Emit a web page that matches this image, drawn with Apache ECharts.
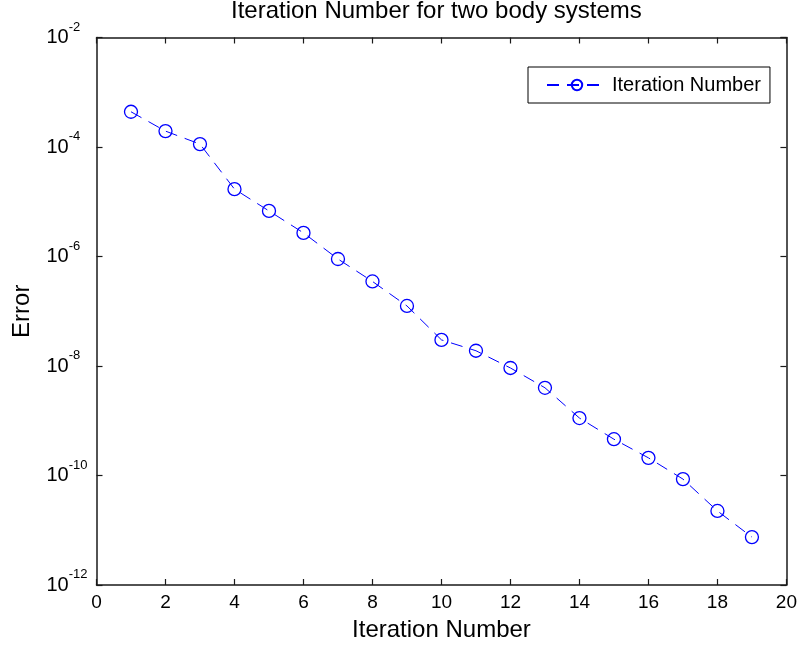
<!DOCTYPE html>
<html>
<head>
<meta charset="utf-8">
<title>Iteration Number for two body systems</title>
<script src="https://cdn.jsdelivr.net/npm/echarts@6/dist/echarts.min.js"></script>
<style>
  html, body { margin: 0; padding: 0; background: #fff; }
  #chart { width: 800px; height: 651px; }
</style>
</head>
<body>
<div id="chart"></div>
<script>
// Iteration index and the corresponding error of the two body solver
const iterations = [1, 2, 3, 4, 5, 6, 7, 8, 9, 10, 11, 12, 13, 14, 15, 16, 17, 18, 19];
const errors = [
  4.4e-4, 1.95e-4, 1.13e-4, 1.7e-5, 6.8e-6, 2.7e-6, 9.0e-7, 3.5e-7, 1.25e-7, 3.0e-8,
  1.9e-8, 9.2e-9, 4.0e-9, 1.12e-9, 4.6e-10, 2.1e-10, 8.6e-11, 2.25e-11, 7.5e-12
];
const xTicks = { min: 0, max: 20, step: 2 };
const yDecades = { min: 1e-12, max: 1e-2, step: 2 };

const FONT = '"Liberation Sans", Arial, Helvetica, sans-serif';
const INK = '#1a1a1a';
const BLUE = '#0000ff';

const points = iterations.map((it, i) => [it, errors[i]]);

function powerLabel(v) {
  const e = Math.round(Math.log10(v));
  return '{base|10}{sup|' + e + '}';
}

// fresh style objects for every axis (box with inward ticks on all four sides)
function axisLine() { return { show: true, onZero: false, lineStyle: { color: INK, width: 1.5 } }; }
function axisTick() { return { show: true, inside: true, length: 6, lineStyle: { color: INK, width: 1.2 } }; }

const chart = echarts.init(document.getElementById('chart'), null, { renderer: 'canvas' });

chart.setOption({
  backgroundColor: '#ffffff',
  animation: false,
  textStyle: { fontFamily: FONT },
  title: {
    text: 'Iteration Number for two body systems',
    left: 231,
    top: -1,
    padding: 0,
    textStyle: { fontFamily: FONT, fontSize: 24, fontWeight: 'normal', color: '#000' }
  },
  legend: {
    left: 528,
    top: 67,
    padding: [8, 9, 8, 18],
    borderColor: '#000',
    borderWidth: 1,
    itemWidth: 60,
    itemHeight: 13,
    textStyle: { fontFamily: FONT, fontSize: 20, color: '#000' },
    data: ['Iteration Number']
  },
  grid: { left: 96.5, right: 9.5, top: 37.5, bottom: 66, containLabel: false },
  xAxis: [
    {
      type: 'value',
      position: 'bottom',
      min: xTicks.min,
      max: xTicks.max,
      interval: xTicks.step,
      name: 'Iteration Number',
      nameLocation: 'middle',
      nameGap: 33,
      nameTextStyle: { fontFamily: FONT, fontSize: 24, color: '#000' },
      axisLine: axisLine(),
      axisTick: axisTick(),
      splitLine: { show: false },
      axisLabel: { margin: 8, fontFamily: FONT, fontSize: 19, color: '#000' }
    },
    {
      type: 'value',
      position: 'top',
      min: xTicks.min,
      max: xTicks.max,
      interval: xTicks.step,
      axisLine: axisLine(),
      axisTick: axisTick(),
      splitLine: { show: false },
      axisLabel: { show: false }
    }
  ],
  yAxis: [
    {
      type: 'log',
      logBase: 10,
      position: 'left',
      min: yDecades.min,
      max: yDecades.max,
      interval: yDecades.step,
      name: 'Error',
      nameLocation: 'middle',
      nameGap: 62,
      nameTextStyle: { fontFamily: FONT, fontSize: 24, color: '#000' },
      axisLine: axisLine(),
      axisTick: axisTick(),
      splitLine: { show: false },
      minorTick: { show: false },
      axisLabel: {
        align: 'left',
        margin: 50,
        formatter: powerLabel,
        rich: {
          base: { fontFamily: FONT, fontSize: 20, color: '#000', lineHeight: 20, verticalAlign: 'bottom' },
          sup: { fontFamily: FONT, fontSize: 13, color: '#000', lineHeight: 13, verticalAlign: 'bottom', padding: [0, 0, 14, 0] }
        }
      }
    },
    {
      type: 'log',
      logBase: 10,
      position: 'right',
      min: yDecades.min,
      max: yDecades.max,
      interval: yDecades.step,
      axisLine: axisLine(),
      axisTick: axisTick(),
      splitLine: { show: false },
      minorTick: { show: false },
      axisLabel: { show: false }
    }
  ],
  series: [
    {
      name: 'Iteration Number',
      type: 'line',
      xAxisIndex: 0,
      yAxisIndex: 0,
      data: points,
      symbol: 'circle',
      symbolSize: 13,
      color: BLUE,
      itemStyle: { color: 'rgba(255,255,255,0)', borderColor: BLUE, borderWidth: 1.3 },
      lineStyle: { color: BLUE, width: 1, type: [12, 8] },
      emphasis: { disabled: true }
    }
  ]
});
</script>
</body>
</html>
